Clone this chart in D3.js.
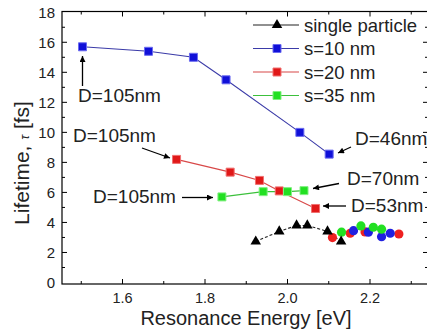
<!DOCTYPE html>
<html><head><meta charset="utf-8">
<script src="https://cdn.jsdelivr.net/npm/d3@7"></script>
<style>html,body{margin:0;padding:0;background:#fff;}svg{display:block;font-family:"Liberation Sans",Arial,sans-serif;}</style>
</head><body><svg id="c" width="427" height="332"></svg>
<script>
// ---- data ----
const s10Energy = [1.503, 1.663, 1.772, 1.851, 2.030, 2.101];
const s10Life   = [15.7, 15.4, 15.0, 13.5, 10.0, 8.55];
const s20Energy = [1.731, 1.861, 1.932, 1.980, 2.068];
const s20Life   = [8.2, 7.35, 6.8, 6.1, 4.93];
const s35Energy = [1.841, 1.941, 2.000, 2.040];
const s35Life   = [5.7, 6.05, 6.05, 6.12];
const singleEnergy = [1.923, 1.980, 2.022, 2.048, 2.097, 2.130];
const singleLife   = [2.73, 3.4, 3.8, 3.8, 3.4, 2.73];
const blueDotE = [2.160, 2.196, 2.228, 2.249];
const blueDotT = [3.45, 3.35, 3.05, 3.28];
const redDotE  = [2.109, 2.152, 2.188, 2.270];
const redDotT  = [2.99, 3.28, 3.37, 3.23];
const greenDotE = [2.131, 2.178, 2.208, 2.228];
const greenDotT = [3.35, 3.77, 3.68, 3.55];
const xTicks = [1.6, 1.8, 2.0, 2.2];
const xMinor = [1.5, 1.7, 1.9, 2.1, 2.3];
const yTicks = [0, 2, 4, 6, 8, 10, 12, 14, 16, 18];
const yMinor = [1, 3, 5, 7, 9, 11, 13, 15, 17];
const legendLabels = ["single particle", "s=10 nm", "s=20 nm", "s=35 nm"];
const annotations = [
  {text:"D=105nm", tx:78, ty:102, x1:82.5, y1:86, x2:82.5, y2:56},
  {text:"D=105nm", tx:73, ty:142, x1:142, y1:148, x2:170, y2:158},
  {text:"D=105nm", tx:93, ty:203, x1:182, y1:197.5, x2:213, y2:197.5},
  {text:"D=46nm", tx:355, ty:145, x1:351, y1:147, x2:338, y2:153},
  {text:"D=70nm", tx:347, ty:185, x1:339, y1:183.5, x2:313, y2:188.5},
  {text:"D=53nm", tx:351, ty:212, x1:346, y1:206, x2:323, y2:206}
];

const svg = d3.select("#c");
const x = d3.scaleLinear().domain([1.4533, 2.3406]).range([62, 428]);
const y = d3.scaleLinear().domain([-0.1, 18.05]).range([284, 11.5]);
const X0 = 62, X1 = 428, Y0 = 284, Y1 = 11.5;

svg.append("defs").append("marker").attr("id","ah").attr("viewBox","0 0 10 10")
  .attr("refX",10).attr("refY",5).attr("markerWidth",7).attr("markerHeight",6)
  .attr("markerUnits","userSpaceOnUse").attr("orient","auto")
  .append("path").attr("d","M0,0L10,5L0,10z").attr("fill","#000");

// frame
svg.append("rect").attr("x",X0).attr("y",Y1).attr("width",X1-X0).attr("height",Y0-Y1)
  .attr("fill","none").attr("stroke","#000").attr("stroke-width",1.2);

// axes with inward ticks
const g = svg.append("g");
function tickLines(vals, len, isX){
  vals.forEach(v=>{
    if(isX){
      const px = x(v);
      g.append("line").attr("x1",px).attr("x2",px).attr("y1",Y0).attr("y2",Y0-len).attr("stroke","#000");
      g.append("line").attr("x1",px).attr("x2",px).attr("y1",Y1).attr("y2",Y1+len).attr("stroke","#000");
    } else {
      const py = y(v);
      g.append("line").attr("x1",X0).attr("x2",X0+len).attr("y1",py).attr("y2",py).attr("stroke","#000");
      g.append("line").attr("x1",X1).attr("x2",X1-len).attr("y1",py).attr("y2",py).attr("stroke","#000");
    }
  });
}
tickLines(xTicks,5,true); tickLines(xMinor,3,true);
tickLines(yTicks.slice(1,-1),5,false); tickLines(yMinor,3,false);

g.selectAll(".xl").data(xTicks).enter().append("text")
  .attr("x",d=>x(d)).attr("y",302.5).attr("text-anchor","middle")
  .attr("font-size",14.5).attr("fill","#222").text(d=>d.toFixed(1));
g.selectAll(".yl").data(yTicks).enter().append("text")
  .attr("x",55).attr("y",d=>y(d)+5.3).attr("text-anchor","end")
  .attr("font-size",15).attr("fill","#222").text(d=>d);

svg.append("text").attr("x",246).attr("y",325).attr("text-anchor","middle")
  .attr("font-size",20).attr("fill","#222").text("Resonance Energy [eV]");
const yt = svg.append("text").attr("transform","translate(29,163) rotate(-90)")
  .attr("text-anchor","middle").attr("font-size",21).attr("fill","#222");
yt.append("tspan").text("Lifetime, ");
yt.append("tspan").attr("font-style","italic").attr("font-size",13).text("τ");
yt.append("tspan").text(" [fs]");

// series lines
const line = d3.line().x(d=>x(d[0])).y(d=>y(d[1]));
const zip = (a,b)=>a.map((v,i)=>[v,b[i]]);
const series = [
  {e:s10Energy, t:s10Life, lc:"#3b3ba8", fc:"#1010d8", sc:"#6a6af0"},
  {e:s20Energy, t:s20Life, lc:"#d84848", fc:"#e01818", sc:"#f07070"},
  {e:s35Energy, t:s35Life, lc:"#3cc03c", fc:"#22e022", sc:"#80f080"}
];
series.forEach(s=>{
  svg.append("path").attr("d",line(zip(s.e,s.t))).attr("fill","none").attr("stroke",s.lc).attr("stroke-width",1.1);
});
svg.append("path").attr("d",line(zip(singleEnergy,singleLife))).attr("fill","none")
  .attr("stroke","#222").attr("stroke-width",1.1).attr("stroke-dasharray","3,2");

series.forEach(s=>{
  svg.selectAll(null).data(zip(s.e,s.t)).enter().append("path")
    .attr("d",d3.symbol(d3.symbolSquare,64)())
    .attr("transform",d=>`translate(${x(d[0])},${y(d[1])})`)
    .attr("fill",s.fc).attr("stroke",s.sc).attr("stroke-width",1);
});

// circles
[[redDotE,redDotT,"#ee2020"],[blueDotE,blueDotT,"#2020e0"],[greenDotE,greenDotT,"#22e022"]].forEach(([e,t,c])=>{
  svg.selectAll(null).data(zip(e,t)).enter().append("circle")
    .attr("cx",d=>x(d[0])).attr("cy",d=>y(d[1])).attr("r",4.6).attr("fill",c);
});

// triangles
svg.selectAll(null).data(zip(singleEnergy,singleLife)).enter().append("path")
  .attr("d",d3.symbol(d3.symbolTriangle,48)())
  .attr("transform",d=>`translate(${x(d[0])},${y(d[1])})`).attr("fill","#000");

// annotations
annotations.forEach(a=>{
  svg.append("line").attr("x1",a.x1).attr("y1",a.y1).attr("x2",a.x2).attr("y2",a.y2)
    .attr("stroke","#000").attr("stroke-width",1.3).attr("marker-end","url(#ah)");
  svg.append("text").attr("x",a.tx).attr("y",a.ty).attr("font-size",19).attr("fill","#222").text(a.text);
});

// legend
const legY = [25, 48.5, 72, 95.5];
const legStyles = [
  {lc:"#222", fc:"#000", sym:d3.symbolTriangle, size:48, sc:"none"},
  {lc:series[0].lc, fc:series[0].fc, sym:d3.symbolSquare, size:64, sc:series[0].sc},
  {lc:series[1].lc, fc:series[1].fc, sym:d3.symbolSquare, size:64, sc:series[1].sc},
  {lc:series[2].lc, fc:series[2].fc, sym:d3.symbolSquare, size:64, sc:series[2].sc}
];
legendLabels.forEach((lab,i)=>{
  const st = legStyles[i], yy = legY[i];
  svg.append("line").attr("x1",253).attr("x2",299).attr("y1",yy).attr("y2",yy).attr("stroke",st.lc).attr("stroke-width",1.1);
  svg.append("path").attr("d",d3.symbol(st.sym,st.size)()).attr("transform",`translate(277,${yy})`)
    .attr("fill",st.fc).attr("stroke",st.sc);
  svg.append("text").attr("x",304).attr("y",yy+6.5).attr("font-size",18.5).attr("fill","#222").text(lab);
});
</script></body></html>
